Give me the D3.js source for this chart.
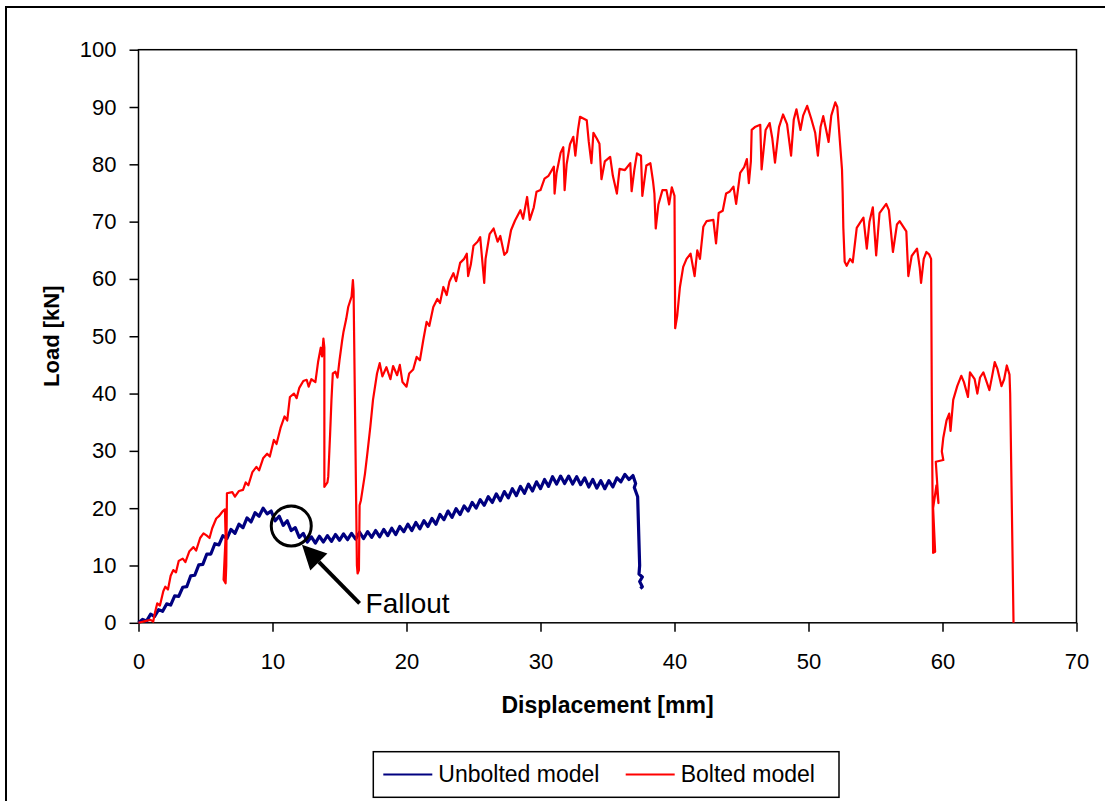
<!DOCTYPE html>
<html>
<head>
<meta charset="utf-8">
<script src="https://cdn.jsdelivr.net/npm/d3@7"></script>
<style>
  body { margin: 0; background: #fff; }
  text { font-family: "Liberation Sans", Arial, sans-serif; fill: #000; }
</style>
</head>
<body>
<div id="chart"></div>
<script>
// Load-displacement readings (displacement mm, load kN)
const unbolted = [
  [0,0],[0.3,0.6],[0.6,0.3],[0.9,1.5],[1.2,1.1],[1.5,2.3],[1.8,2.0],[2.1,3.3],[2.4,3.1],[2.7,4.7],
  [3.0,4.6],[3.3,6.2],[3.6,6.3],[3.9,8.2],[4.2,8.3],[4.5,10.1],[4.8,10.2],[5.1,12.0],[5.4,12.0],[5.7,13.8],
  [6.0,13.6],[6.3,15.2],[6.6,14.7],[6.9,16.3],[7.2,15.6],[7.5,17.2],[7.8,16.6],[8.1,18.3],[8.4,17.6],[8.7,19.2],
  [9.0,18.6],[9.3,20.0],[9.6,19.0],[9.9,19.5],[10.2,17.8],[10.5,18.6],[10.8,17.0],[11.1,17.8],[11.4,16.1],[11.7,16.6],
  [12.0,14.9],[12.3,15.6],[12.6,14.1],[12.9,15.0],[13.2,13.9],[13.5,15.1],[13.8,14.1],[14.1,15.2],[14.4,14.2],[14.7,15.4],
  [15.0,14.4],[15.3,15.5],[15.6,14.5],[15.9,15.6],[16.2,14.6],[16.5,15.8],[16.8,14.7],[17.1,15.9],[17.4,14.9],[17.7,16.1],
  [18.0,15.0],[18.3,16.3],[18.6,15.2],[18.9,16.5],[19.2,15.4],[19.5,16.8],[19.8,15.9],[20.1,17.2],[20.4,16.1],[20.7,17.5],
  [21.0,16.4],[21.3,17.8],[21.6,16.8],[21.9,18.2],[22.2,17.2],[22.5,18.9],[22.8,18.0],[23.1,19.5],[23.4,18.4],[23.7,19.9],
  [24.0,18.9],[24.3,20.4],[24.6,19.5],[24.9,21.0],[25.2,20.0],[25.5,21.5],[25.8,20.5],[26.1,22.0],[26.4,21.0],[26.7,22.5],
  [27.0,21.3],[27.3,22.9],[27.6,21.8],[27.9,23.4],[28.2,22.2],[28.5,23.8],[28.8,22.6],[29.1,24.2],[29.4,23.0],[29.7,24.6],
  [30.0,23.4],[30.3,25.0],[30.6,23.8],[30.9,25.5],[31.2,24.2],[31.5,25.6],[31.8,24.3],[32.1,25.6],[32.4,24.2],[32.7,25.5],
  [33.0,24.1],[33.3,25.3],[33.6,23.7],[33.9,25.0],[34.2,23.5],[34.5,24.8],[34.8,23.4],[35.1,24.8],[35.4,23.7],[35.7,25.3],
  [36.0,24.6],[36.3,25.9],[36.6,25.0],[36.9,25.7],[37.1,24.3],[37.0,23.6],[37.25,22.0],[37.4,10.0],[37.35,8.5],[37.6,8.0],
  [37.4,7.2],[37.6,6.3],[37.45,6.0]
];

const bolted = [
  [0,0],[0.5,0.3],[0.9,0.5],[1.1,0.2],[1.2,1.5],[1.4,3.4],[1.6,3.0],[1.85,5.5],[2.0,6.3],[2.2,5.8],
  [2.4,8.2],[2.6,9.2],[2.8,8.8],[3.0,10.8],[3.3,11.2],[3.5,10.6],[3.8,12.5],[4.1,13.2],[4.3,12.6],[4.6,14.8],
  [4.85,15.6],[5.1,15.2],[5.3,14.8],[5.5,16.5],[5.8,18.2],[6.0,18.6],[6.3,19.5],[6.45,19.8],[6.5,15.0],[6.35,7.5],
  [6.5,6.9],[6.55,10.0],[6.6,22.6],[7.0,22.8],[7.2,22.0],[7.5,23.0],[7.8,23.2],[8.0,24.5],[8.2,24.0],[8.5,26.3],
  [8.8,27.2],[9.0,26.6],[9.3,28.7],[9.6,29.5],[9.8,29.0],[10.1,31.9],[10.3,31.2],[10.6,34.0],[10.9,36.0],[11.1,35.3],
  [11.3,39.4],[11.6,40.0],[11.8,39.2],[12.0,41.0],[12.3,42.2],[12.55,42.4],[12.7,41.2],[12.9,42.5],[13.2,42.0],[13.4,45.5],
  [13.6,48.0],[13.7,46.5],[13.8,49.6],[13.87,48.0],[13.87,23.7],[14.1,24.5],[14.16,25.5],[14.3,33.0],[14.4,38.9],[14.5,43.5],
  [14.7,43.8],[14.85,42.8],[15.0,45.8],[15.2,49.3],[15.3,50.8],[15.5,53.0],[15.65,55.1],[15.9,56.9],[16.0,59.8],[16.05,58.0],
  [16.3,10.0],[16.35,8.6],[16.45,9.2],[16.5,20.5],[16.6,21.4],[16.9,26.0],[17.1,30.0],[17.3,34.2],[17.5,38.9],[17.8,43.5],
  [18.0,45.3],[18.2,43.0],[18.5,44.6],[18.8,42.5],[19.0,44.8],[19.3,43.2],[19.5,45.0],[19.7,42.0],[20.0,41.2],[20.2,43.5],
  [20.5,44.2],[20.76,46.4],[21.0,45.8],[21.25,49.3],[21.5,52.5],[21.7,51.8],[22.0,55.1],[22.3,56.5],[22.5,55.8],[22.75,58.6],
  [23.0,57.2],[23.2,59.5],[23.5,61.0],[23.7,59.6],[24.0,62.8],[24.3,63.5],[24.5,64.4],[24.6,60.5],[24.8,62.5],[25.0,65.8],
  [25.3,66.5],[25.5,67.3],[25.7,62.0],[25.8,59.3],[25.9,63.5],[26.2,67.8],[26.5,68.8],[26.8,66.5],[27.0,67.5],[27.3,64.2],
  [27.5,64.7],[27.8,68.5],[28.1,70.2],[28.5,72.0],[28.7,70.5],[29.0,74.3],[29.2,70.3],[29.5,72.5],[29.7,75.2],[30.0,75.5],
  [30.3,77.5],[30.6,78.0],[31.0,79.6],[31.05,74.9],[31.2,78.5],[31.5,82.0],[31.7,83.0],[31.8,75.5],[31.95,80.0],[32.2,83.5],
  [32.45,84.8],[32.6,81.5],[32.8,86.0],[32.95,88.3],[33.2,88.0],[33.45,87.7],[33.6,84.0],[33.8,80.2],[33.95,85.5],[34.2,84.5],
  [34.4,83.6],[34.55,77.4],[34.8,80.5],[35.2,81.3],[35.4,78.0],[35.7,74.9],[35.9,79.2],[36.3,79.0],[36.7,80.2],[36.8,75.3],
  [37.0,79.0],[37.2,81.9],[37.5,81.5],[37.6,74.5],[37.9,79.8],[38.2,80.2],[38.4,77.0],[38.5,74.9],[38.6,68.8],[38.8,73.0],
  [39.1,75.5],[39.4,75.5],[39.6,73.0],[39.8,76.0],[40.0,74.5],[40.05,51.4],[40.2,53.5],[40.4,58.5],[40.65,62.1],[40.9,63.5],
  [41.2,64.4],[41.5,60.5],[41.7,65.0],[41.9,63.5],[42.15,69.1],[42.4,70.1],[42.9,70.3],[43.1,66.2],[43.3,71.5],[43.6,71.9],
  [43.85,74.9],[44.1,75.2],[44.4,76.1],[44.6,73.1],[44.9,78.5],[45.2,79.5],[45.4,80.9],[45.55,76.7],[45.7,80.5],[45.76,86.0],
  [46.0,86.5],[46.4,86.9],[46.5,79.1],[46.8,86.0],[47.1,87.2],[47.3,84.5],[47.5,80.3],[47.8,86.5],[48.1,88.7],[48.4,87.0],
  [48.7,81.5],[48.9,87.8],[49.1,89.6],[49.4,86.0],[49.6,88.5],[49.9,90.2],[50.2,88.0],[50.5,85.5],[50.7,81.5],[50.9,86.5],
  [51.1,88.4],[51.3,86.2],[51.5,83.9],[51.7,88.5],[52.0,90.8],[52.15,90.0],[52.5,79.1],[52.55,74.9],[52.6,68.9],[52.7,63.0],
  [52.85,62.3],[53.1,63.5],[53.3,62.9],[53.6,68.9],[53.9,70.0],[54.1,70.7],[54.35,65.3],[54.55,70.0],[54.8,72.5],[55.05,64.1],
  [55.3,71.5],[55.8,73.1],[56.0,72.0],[56.3,64.7],[56.6,69.5],[56.8,70.1],[57.3,68.3],[57.45,60.5],[57.7,64.0],[58.1,65.3],
  [58.3,62.0],[58.4,59.3],[58.6,63.5],[58.8,64.7],[59.0,64.3],[59.15,63.5],[59.2,40.0],[59.25,24.0],[59.3,12.2],[59.45,12.4],
  [59.3,20.0],[59.55,24.0],[59.7,20.9],[59.5,28.1],[60.06,28.4],[59.95,29.9],[60.06,32.3],[60.3,35.3],[60.5,36.5],[60.6,33.5],
  [60.8,38.9],[61.1,41.3],[61.4,43.1],[61.6,42.0],[61.9,39.4],[62.05,43.7],[62.4,42.5],[62.6,40.0],[62.8,42.8],[63.05,43.7],
  [63.3,42.0],[63.5,40.6],[63.7,43.0],[63.9,45.5],[64.1,44.3],[64.4,41.3],[64.6,42.5],[64.8,44.9],[65.0,43.3],[65.05,40.0],
  [65.3,0]
];

const seriesNames = ['Unbolted model', 'Bolted model'];
const seriesColors = ['#000080', '#ff0000'];
const seriesWidths = [3.2, 2.2];
const xTickValues = [0, 10, 20, 30, 40, 50, 60, 70];
const yTickValues = [0, 10, 20, 30, 40, 50, 60, 70, 80, 90, 100];

// annotation anchors in data units
const fallout = { label: 'Fallout', circle: [11.4, 16.9], tip: [12.2, 13.6], tail: [16.5, 3.4] };

const width = 1105, height = 801;
const margin = { left: 138.5, top: 49.7, right: 1105 - 1076.5, bottom: 801 - 622.8 };
const plotW = width - margin.left - margin.right;
const plotH = height - margin.top - margin.bottom;

const svg = d3.select('#chart').append('svg')
    .attr('width', width)
    .attr('height', height);

// outer chart frame (right and bottom edges run off the picture)
svg.append('rect')
    .attr('x', 6).attr('y', 7)
    .attr('width', 1120).attr('height', 820)
    .attr('fill', 'none')
    .attr('stroke', '#000')
    .attr('stroke-width', 2);

const g = svg.append('g')
    .attr('transform', `translate(${margin.left},${margin.top})`);

const x = d3.scaleLinear().domain([0, 70]).range([0, plotW]);
const y = d3.scaleLinear().domain([0, 100]).range([plotH, 0]);

const xAxis = g.append('g')
    .attr('transform', `translate(0,${plotH})`)
    .call(d3.axisBottom(x).tickValues(xTickValues).tickSize(9).tickSizeOuter(0).tickPadding(22));
const yAxis = g.append('g')
    .call(d3.axisLeft(y).tickValues(yTickValues).tickSize(9).tickSizeOuter(0).tickPadding(13));

[xAxis, yAxis].forEach(ax => {
  ax.select('.domain').remove();
  ax.selectAll('line').attr('stroke', '#000').attr('stroke-width', 1.5);
  ax.selectAll('text')
      .attr('font-family', '"Liberation Sans", Arial, sans-serif')
      .attr('font-size', 22)
      .attr('fill', '#000');
});

// plot area border
g.append('rect')
    .attr('width', plotW).attr('height', plotH)
    .attr('fill', 'none')
    .attr('stroke', '#000')
    .attr('stroke-width', 1.5);

const line = d3.line()
    .x(d => x(d[0]))
    .y(d => y(d[1]));

[unbolted, bolted].forEach((data, i) => {
  g.append('path')
      .datum(data)
      .attr('d', line)
      .attr('fill', 'none')
      .attr('stroke', seriesColors[i])
      .attr('stroke-width', seriesWidths[i])
      .attr('stroke-linejoin', 'round');
});

// Fallout annotation
g.append('circle')
    .attr('cx', x(fallout.circle[0]))
    .attr('cy', y(fallout.circle[1]))
    .attr('r', 20)
    .attr('fill', 'none')
    .attr('stroke', '#000')
    .attr('stroke-width', 3);

const tip = [x(fallout.tip[0]), y(fallout.tip[1])];
const tail = [x(fallout.tail[0]), y(fallout.tail[1])];
const ang = Math.atan2(tip[1] - tail[1], tip[0] - tail[0]);
const headLen = 24, headHalf = 12;
const base = [tip[0] - headLen * Math.cos(ang), tip[1] - headLen * Math.sin(ang)];

g.append('line')
    .attr('x1', tail[0]).attr('y1', tail[1])
    .attr('x2', base[0]).attr('y2', base[1])
    .attr('stroke', '#000')
    .attr('stroke-width', 4);

g.append('path')
    .attr('d', d3.line()([
      tip,
      [base[0] + headHalf * Math.sin(ang), base[1] - headHalf * Math.cos(ang)],
      [base[0] - headHalf * Math.sin(ang), base[1] + headHalf * Math.cos(ang)]
    ]) + 'Z')
    .attr('fill', '#000');

g.append('text')
    .attr('x', tail[0] + 6)
    .attr('y', tail[1] + 10)
    .attr('font-size', 28)
    .text(fallout.label);

// axis titles
svg.append('text')
    .attr('x', margin.left + plotW / 2)
    .attr('y', 713.3)
    .attr('text-anchor', 'middle')
    .attr('font-size', 23)
    .attr('font-weight', 'bold')
    .text('Displacement [mm]');

svg.append('text')
    .attr('transform', `translate(59.3,${margin.top + plotH / 2}) rotate(-90)`)
    .attr('text-anchor', 'middle')
    .attr('font-size', 22)
    .attr('font-weight', 'bold')
    .text('Load [kN]');

// legend
const legend = svg.append('g').attr('transform', 'translate(373.3,751.7)');
legend.append('rect')
    .attr('width', 465.7).attr('height', 45.6)
    .attr('fill', '#fff')
    .attr('stroke', '#000')
    .attr('stroke-width', 1.5);

const legendX = [10, 252.4];
seriesNames.forEach((name, i) => {
  legend.append('line')
      .attr('x1', legendX[i]).attr('x2', legendX[i] + 49)
      .attr('y1', 22.8).attr('y2', 22.8)
      .attr('stroke', seriesColors[i])
      .attr('stroke-width', 2);
  legend.append('text')
      .attr('x', legendX[i] + 55)
      .attr('y', 30)
      .attr('font-size', 23)
      .text(name);
});
</script>
</body>
</html>
